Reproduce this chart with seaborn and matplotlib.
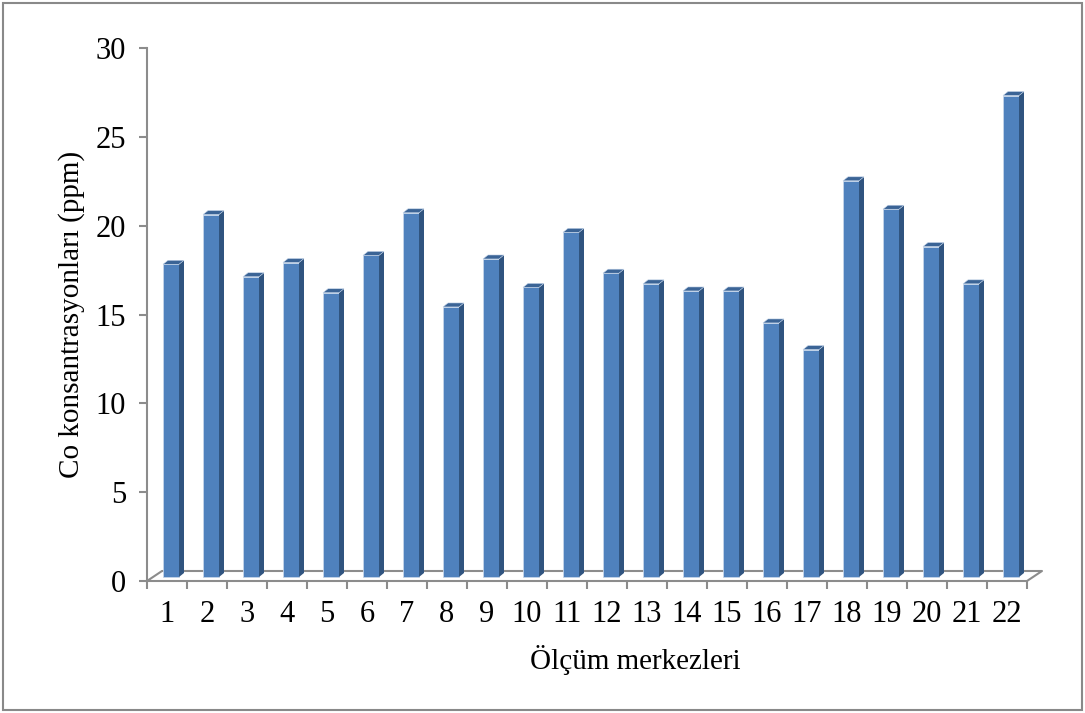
import matplotlib
matplotlib.use("Agg")
import matplotlib.pyplot as plt
import matplotlib.transforms as mtransforms
from matplotlib.patches import Polygon, Rectangle
from matplotlib.lines import Line2D
import seaborn as sns
import pandas as pd

# Cobalt concentration at each measurement station (ppm)
stations = [str(i) for i in range(1, 23)]
co_ppm = [17.6, 20.4, 16.9, 17.7, 16.0, 18.1, 20.5, 15.2, 17.9, 16.3, 19.4,
          17.1, 16.5, 16.1, 16.1, 14.3, 12.8, 22.3, 20.7, 18.6, 16.5, 27.1]
y_ticks = [0, 5, 10, 15, 20, 25, 30]

x_title = "Ölçüm merkezleri"
y_title = "Co konsantrasyonları (ppm)"

front_color = "#4F81BD"
side_color = "#30547F"
top_color = "#3B6496"
axis_gray = "#8C8C8C"

sns.set_theme(style="white")
plt.rcParams["font.family"] = ["Liberation Serif", "DejaVu Serif"]

W, H = 1085, 713
fig = plt.figure(figsize=(W / 100, H / 100), dpi=100)

# plot area in pixel terms: left edge, right edge, zero line, top line
x0, x1, yb, yt = 147, 1027, 581, 48
ax = fig.add_axes([x0 / W, 1 - yb / H, (x1 - x0) / W, (yb - yt) / H])

df = pd.DataFrame({"station": stations, "co": co_ppm})
sns.barplot(data=df, x="station", y="co", color=front_color, width=0.4,
            saturation=1, ax=ax, edgecolor="#C5D5EA", linewidth=0.6, zorder=3)

ax.set_xlim(-0.5, len(stations) - 0.5)
ax.set_ylim(0, 30)

# depth of the 3D floor and where the bars stand inside it (pixels)
depth_dx, depth_dy = 15, 10
bar_dx, bar_dy = 4, 4
side_dx, side_dy = 5, 4
px = 1 / 100.0

bar_shift = mtransforms.ScaledTranslation(bar_dx * px, bar_dy * px, fig.dpi_scale_trans)
back_shift = mtransforms.ScaledTranslation(side_dx * px, side_dy * px, fig.dpi_scale_trans)
for p in list(ax.patches):
    base = ax.transData + bar_shift
    back = base + back_shift
    p.set_transform(base)
    bx, bw, bh = p.get_x(), p.get_width(), p.get_height()
    r0 = base.transform((bx + bw, 0))
    r1 = base.transform((bx + bw, bh))
    r2 = back.transform((bx + bw, bh))
    r3 = back.transform((bx + bw, 0))
    l1 = base.transform((bx, bh))
    l2 = back.transform((bx, bh))
    side = Polygon([r0, r1, r2, r3], closed=True, transform=None,
                   facecolor=side_color, edgecolor="none", zorder=3)
    top = Polygon([l1, r1, r2, l2], closed=True, transform=None,
                  facecolor=top_color, edgecolor="#C5D5EA", linewidth=0.4, zorder=3)
    for face in (side, top):
        face.set_figure(fig)
        fig.artists.append(face)

for s in ["top", "right", "bottom"]:
    ax.spines[s].set_visible(False)
ax.spines["left"].set_color(axis_gray)
ax.spines["left"].set_linewidth(1.5)
ax.patch.set_alpha(0)
ax.set_zorder(2)

# floor parallelogram, behind the bars
def to_fig(xp, yp):
    return (xp / W, 1 - yp / H)

floor_pts = [(x0, yb), (x1, yb), (x1 + depth_dx, yb - depth_dy),
             (x0 + depth_dx, yb - depth_dy), (x0, yb)]
fx = [to_fig(*p)[0] for p in floor_pts]
fy = [to_fig(*p)[1] for p in floor_pts]
fig.lines.append(Line2D(fx, fy, transform=fig.transFigure, color=axis_gray,
                        linewidth=1.5, zorder=1))

ax.set_yticks(y_ticks)
ax.set_yticklabels([str(v) for v in y_ticks])
ax.set_xticks(range(len(stations)))
ax.set_xticklabels(stations)
ax.set_xticks([i - 0.5 for i in range(len(stations) + 1)], minor=True)

ax.tick_params(axis="y", which="major", left=True, length=6, width=1.5,
               color=axis_gray, labelsize=22, pad=9, labelcolor="black")
ax.tick_params(axis="x", which="major", bottom=False, length=0, labelsize=22,
               pad=14, labelcolor="black")
ax.tick_params(axis="x", which="minor", bottom=True, length=6, width=1.5,
               color=axis_gray)

ax.set_xlabel(x_title, fontsize=21, color="black")
ax.set_ylabel(y_title, fontsize=21, color="black")
ax.xaxis.set_label_coords((635 - x0) / (x1 - x0), (yb - 645) / (yb - yt))
ax.yaxis.set_label_coords(-(x0 - 72) / (x1 - x0), 0.5)
ax.yaxis.label.set_va("center")
ax.xaxis.label.set_va("top")

# outer chart border
fig.patches.append(Rectangle((3 / W, 3 / H), (W - 6) / W, (H - 6) / H,
                             transform=fig.transFigure, fill=False,
                             edgecolor="#898989", linewidth=1.5))

fig.savefig("out.png", dpi=100)
